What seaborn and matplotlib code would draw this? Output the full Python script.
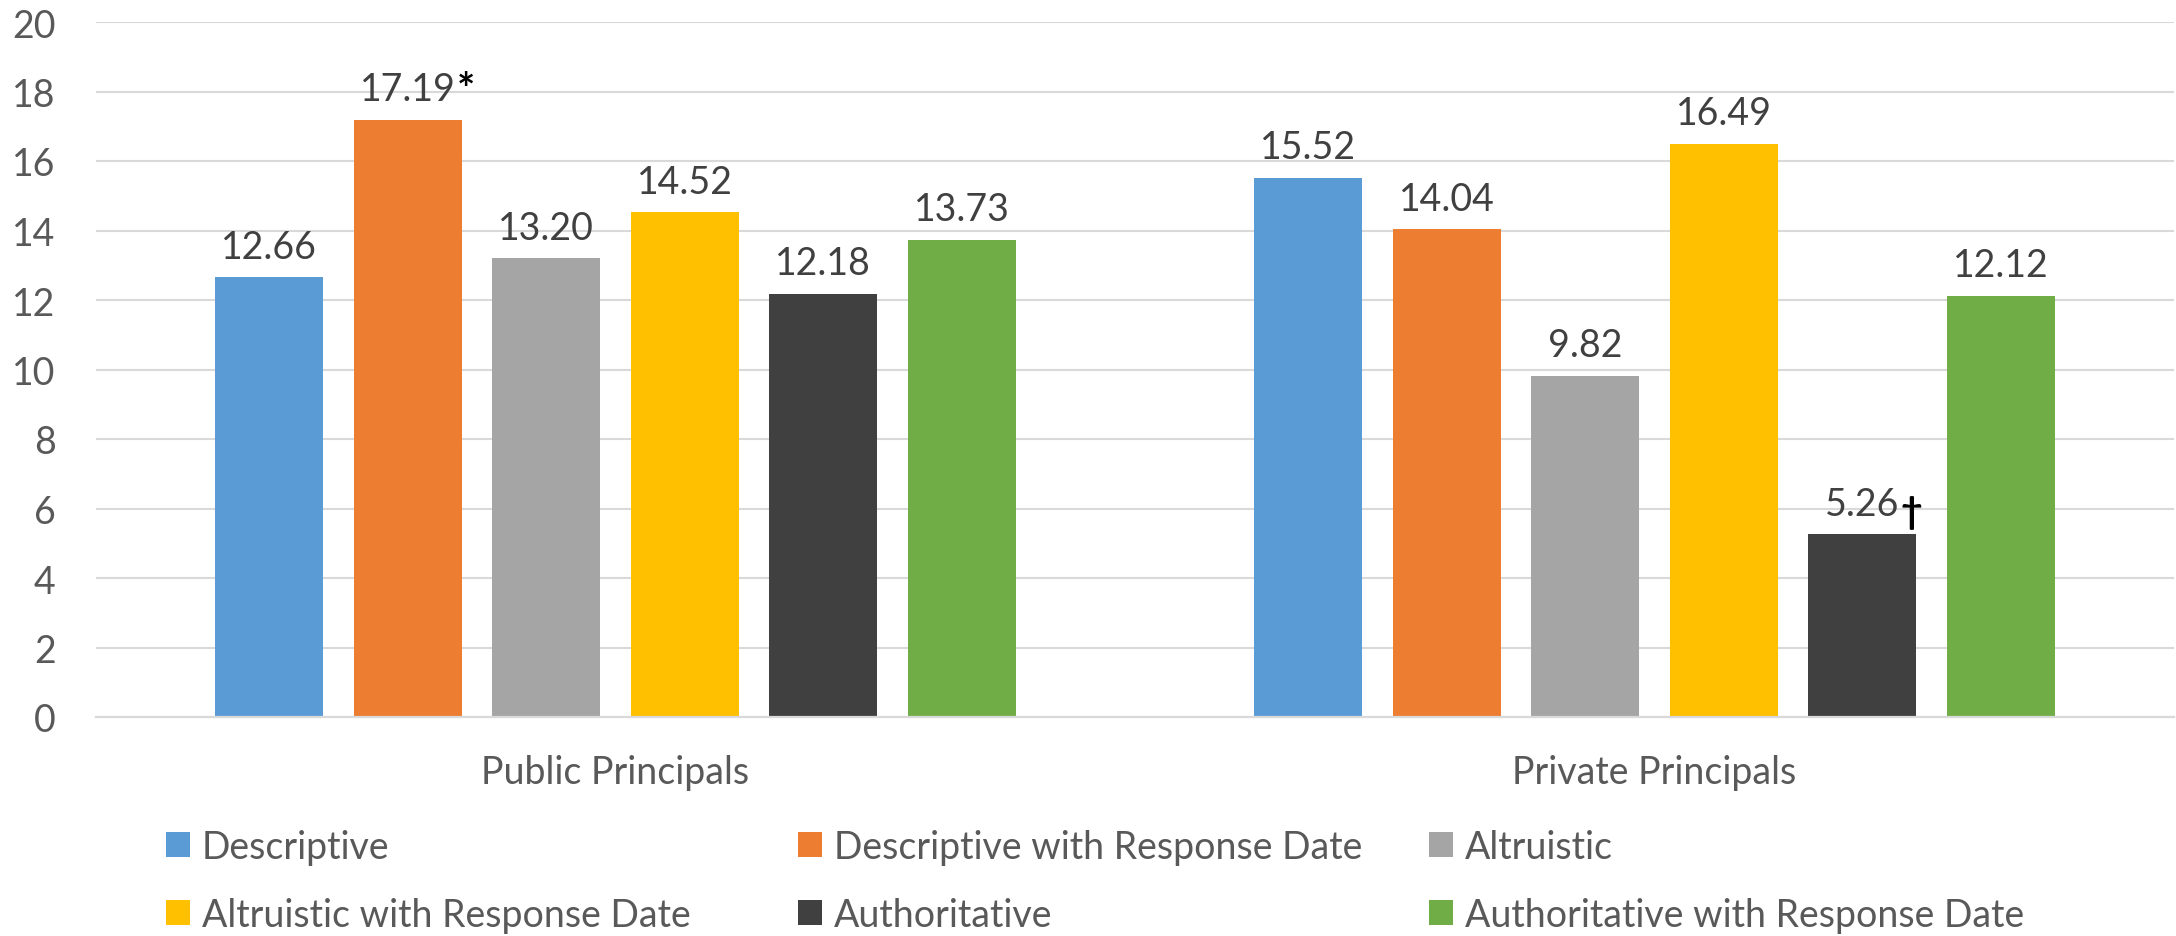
import matplotlib
matplotlib.use("Agg")
import matplotlib.pyplot as plt
import seaborn as sns
import pandas as pd
from matplotlib.patches import Patch

# Principal groups and message treatments
groups = ["Public Principals", "Private Principals"]
series = [
    "Descriptive",
    "Descriptive with Response Date",
    "Altruistic",
    "Altruistic with Response Date",
    "Authoritative",
    "Authoritative with Response Date",
]
public_values = [12.66, 17.19, 13.20, 14.52, 12.18, 13.73]
private_values = [15.52, 14.04, 9.82, 16.49, 5.26, 12.12]
# Significance markers appended to specific value labels: (group, series) -> symbol
markers = {("Public Principals", "Descriptive with Response Date"): "*",
           ("Private Principals", "Authoritative"): "\u2020"}
y_ticks = [0, 2, 4, 6, 8, 10, 12, 14, 16, 18, 20]

colors = ["#5B9BD5", "#ED7D31", "#A5A5A5", "#FFC000", "#404040", "#70AD47"]

rows = []
for g, vals in zip(groups, [public_values, private_values]):
    for s, v in zip(series, vals):
        rows.append({"group": g, "series": s, "value": v})
df = pd.DataFrame(rows)

sns.set_theme(style="white")
plt.rcParams["font.family"] = ["Lato", "DejaVu Sans"]

FS = 27
TEXT = "#595959"
LABEL = "#404040"
GRID = "#D9D9D9"

fig = plt.figure(figsize=(21.76, 9.37), dpi=100)
ax = fig.add_axes([96 / 2176, 1 - 718 / 937, (2174 - 96) / 2176, (718 - 23) / 937])

sns.barplot(data=df, x="group", y="value", hue="series", order=groups,
            hue_order=series, palette=colors, saturation=1, width=0.8,
            gap=0.22, linewidth=0, errorbar=None, legend=False, ax=ax)

ax.set_xlim(-0.5, 1.5)
ax.set_ylim(0, 20)
ax.set_yticks(y_ticks)
ax.set_yticklabels([str(t) for t in y_ticks])
ax.set_xlabel("")
ax.set_ylabel("")

ax.set_axisbelow(True)
ax.yaxis.grid(True, color=GRID, linewidth=1.5)
ax.xaxis.grid(False)
for side in ["left", "right", "top"]:
    ax.spines[side].set_visible(False)
ax.spines["bottom"].set_color(GRID)
ax.spines["bottom"].set_linewidth(1.6)
ax.tick_params(axis="y", length=0, pad=29, labelsize=FS, labelcolor=TEXT)
ax.tick_params(axis="x", length=0, pad=27, labelsize=FS, labelcolor=TEXT)

# Value labels above each bar
for s, container in zip(series, ax.containers):
    for g, bar in zip(groups, container.patches):
        v = df.loc[(df.group == g) & (df.series == s), "value"].iloc[0]
        cx = bar.get_x() + bar.get_width() / 2
        txt = ax.annotate(f"{v:.2f}", xy=(cx, bar.get_height()),
                          xytext=(0, 9), textcoords="offset points",
                          ha="center", va="bottom", fontsize=FS, color=LABEL)
        sym = markers.get((g, s))
        if sym == "*":
            ax.annotate(sym, xy=(1, 1), xycoords=txt, xytext=(1, 1),
                        textcoords="offset points", ha="left", va="top",
                        fontsize=FS * 1.15, color="black", fontweight="bold")
        elif sym:
            ax.annotate(sym, xy=(1, 0), xycoords=txt, xytext=(1, -5),
                        textcoords="offset points", ha="left", va="bottom",
                        fontsize=FS, color="black", fontweight="bold")

# Legend laid out as three evenly spaced columns, filled row by row
handles = [Patch(facecolor=c, edgecolor="none") for c in colors]
col_x = [166, 798, 1429]
for k, x in enumerate(col_x):
    idx = [k, k + 3]
    fig.legend([handles[i] for i in idx], [series[i] for i in idx],
               loc="center left", bbox_to_anchor=(x / 2176, 1 - 882 / 937),
               frameon=False, fontsize=FS, labelcolor=TEXT,
               handlelength=0.64, handleheight=0.64, handletextpad=0.32,
               labelspacing=0.85, borderpad=0, borderaxespad=0)

fig.savefig("out.png", dpi=100)
